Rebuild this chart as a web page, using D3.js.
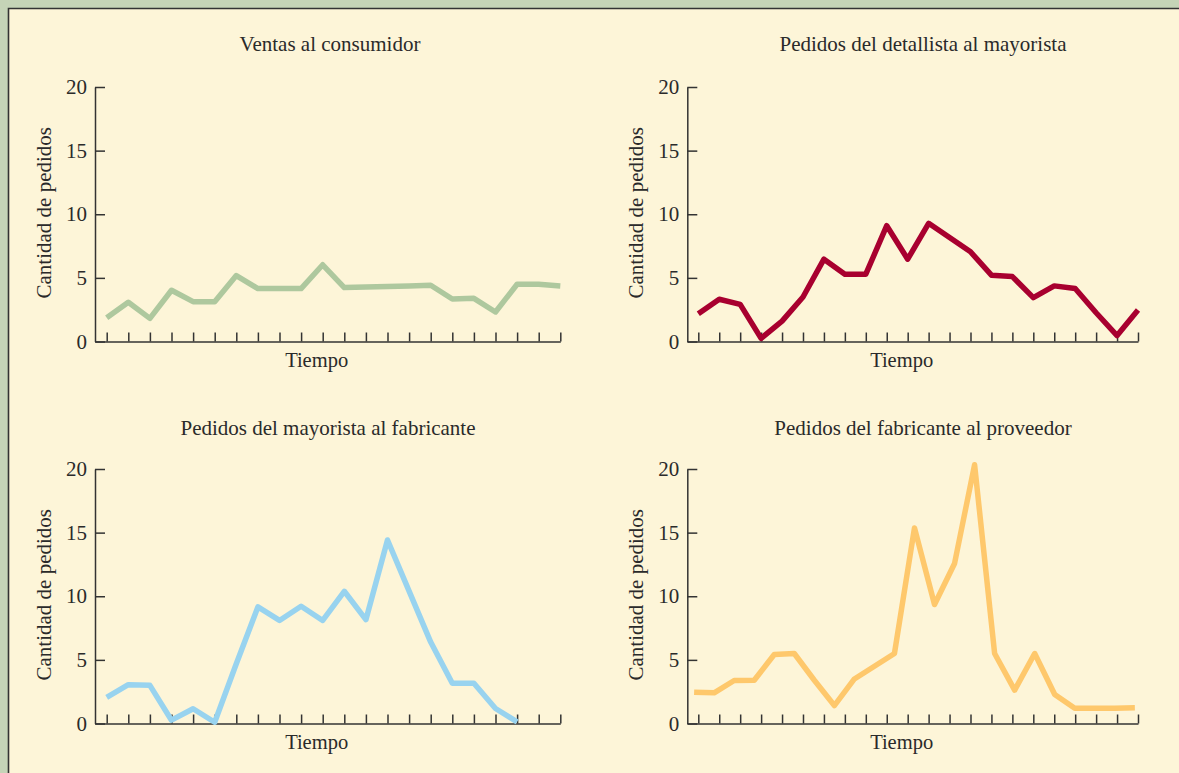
<!DOCTYPE html>
<html>
<head>
<meta charset="utf-8">
<script src="https://cdn.jsdelivr.net/npm/d3@7"></script>
<style>
  html, body { margin: 0; padding: 0; overflow: hidden; background: #fdf5d8; }
  svg { display: block; }
  svg text { font-family: "Liberation Serif", "Times New Roman", serif; fill: #2a2a2a; }
</style>
</head>
<body>
<div class="chart"></div>
<script>

	/* ---------------------------------
		Data
	------------------------------------*/

	// panel titles
	var titles = [
		"Ventas al consumidor",
		"Pedidos del detallista al mayorista",
		"Pedidos del mayorista al fabricante",
		"Pedidos del fabricante al proveedor"
	];

	// one value per period
	var ventas = [1.87, 3.08, 1.82, 4.03, 3.13, 3.13, 5.18, 4.16, 4.16, 4.16, 6.03,
		4.24, 4.28, 4.33, 4.37, 4.42, 3.34, 3.39, 2.32, 4.5, 4.5, 4.37];

	var detallista = [2.18, 3.32, 2.92, 0.25, 1.6, 3.5, 6.47, 5.29, 5.29, 9.1, 6.47,
		9.29, 8.18, 7.05, 5.21, 5.1, 3.45, 4.37, 4.16, 2.26, 0.47, 2.47];

	var mayorista = [2.05, 3.05, 3.0, 0.26, 1.16, 0.1, 4.7, 9.16, 8.1, 9.21, 8.1,
		10.39, 8.16, 14.42, 10.4, 6.4, 3.16, 3.16, 1.18, 0.13];

	// this one was plotted with 23 points over the same span
	var fabricante = [2.46, 2.41, 3.38, 3.4, 5.42, 5.5, 3.4, 1.41, 3.5, 4.5, 5.5,
		15.37, 9.35, 12.57, 20.34, 5.5, 2.62, 5.5, 2.28, 1.2, 1.2, 1.2, 1.23];

	var yTicks = [0, 5, 10, 15, 20];
	var periods = d3.range(22);   // tick marks on the time axis

	var yLabel = "Cantidad de pedidos";
	var xLabel = "Tiempo";


	/* ---------------------------------
		Layout
	------------------------------------*/

	var w = 1179;
	var h = 773;

	var colors = ["#aec89e", "#a8002f", "#98d3ef", "#fec86c"];
	var series = [ventas, detallista, mayorista, fabricante];

	// left edge of the axis, first & last tick, top and bottom of each plot
	var panels = [
		{ left: 95,    first: 106.7, last: 560.3, top: 87,  bottom: 341.5, titleX: 330, titleY: 51 },
		{ left: 687.3, first: 698.3, last: 1138,  top: 87,  bottom: 341.5, titleX: 923, titleY: 51 },
		{ left: 95,    first: 106.7, last: 560.3, top: 469, bottom: 723.5, titleX: 328, titleY: 435 },
		{ left: 687.3, first: 698.3, last: 1138,  top: 469, bottom: 723.5, titleX: 923, titleY: 435 }
	];

	// where the 23-point series starts and ends, in tick units
	var fabStart = -0.2;
	var fabEnd = 20.85;


	/* ---------------------------------
		Draw the SVG
	------------------------------------*/

	var svg = d3.select(".chart")
				.append("svg")
				.attr("width", w)
				.attr("height", h);

	// page, then the green band along top & left with a dark rule
	svg.append("rect")
		.attr("width", w)
		.attr("height", h)
		.attr("fill", "#fdf5d8");

	svg.append("rect")
		.attr("width", w)
		.attr("height", 8)
		.attr("fill", "#c5d4b7");

	svg.append("rect")
		.attr("width", 8)
		.attr("height", h)
		.attr("fill", "#c5d4b7");

	svg.append("path")
		.attr("d", "M8.5," + h + "V8.5H" + w)
		.attr("fill", "none")
		.attr("stroke", "#333")
		.attr("stroke-width", 1.6);


	panels.forEach(function(p, k) {

		var tickStep = (p.last - p.first) / 21;

		// time scale: tick i sits at first + i * step, axis line starts at p.left
		var xScale = d3.scaleLinear()
					.domain([(p.left - p.first) / tickStep, 21])
					.range([p.left, p.last]);

		var yScale = d3.scaleLinear()
					.domain([0, 20])
					.range([p.bottom, p.top]);

		var g = svg.append("g");

		// Define X axis
		var xAxis = d3.axisBottom()
					.scale(xScale)
					.tickValues(periods)
					.tickSize(-9)
					.tickSizeOuter(0)
					.tickFormat("");

		// Define Y axis
		var yAxis = d3.axisLeft()
					.scale(yScale)
					.tickValues(yTicks)
					.tickSize(-10)
					.tickSizeOuter(0)
					.tickPadding(8);

		g.append("g")
			.attr("transform", "translate(0," + p.bottom + ")")
			.call(xAxis);

		var gy = g.append("g")
			.attr("transform", "translate(" + p.left + ",0)")
			.call(yAxis);

		g.selectAll(".domain, .tick line")
			.attr("stroke", "#333")
			.attr("stroke-width", 1.5);

		gy.selectAll("text")
			.attr("font-size", 21)
			.attr("fill", "#2a2a2a")
			.style("font-family", "'Liberation Serif', serif");

		// line
		var data = series[k];
		var px;
		if (data.length == 23) {
			px = d3.scaleLinear().domain([0, 22]).range([xScale(fabStart), xScale(fabEnd)]);
		} else {
			px = function(i) { return xScale(i); };
		}

		var line = d3.line()
			.x(function(d, i) { return px(i); })
			.y(function(d) { return yScale(d); });

		g.append("path")
			.datum(data)
			.attr("fill", "none")
			.attr("stroke", colors[k])
			.attr("stroke-width", 5.5)
			.attr("stroke-linejoin", "round")
			.attr("d", line);

		// texts
		g.append("text")
			.attr("x", p.titleX)
			.attr("y", p.titleY)
			.attr("text-anchor", "middle")
			.attr("font-size", 21)
			.text(titles[k]);

		g.append("text")
			.attr("x", (p.left + p.last) / 2 - 11)
			.attr("y", p.bottom + 25.5)
			.attr("text-anchor", "middle")
			.attr("font-size", 20.5)
			.text(xLabel);

		g.append("text")
			.attr("transform", "rotate(-90)")
			.attr("x", -(p.top + p.bottom) / 2 + 1.5)
			.attr("y", p.left - 44)
			.attr("text-anchor", "middle")
			.attr("font-size", 21)
			.text(yLabel);
	});

</script>
</body>
</html>
